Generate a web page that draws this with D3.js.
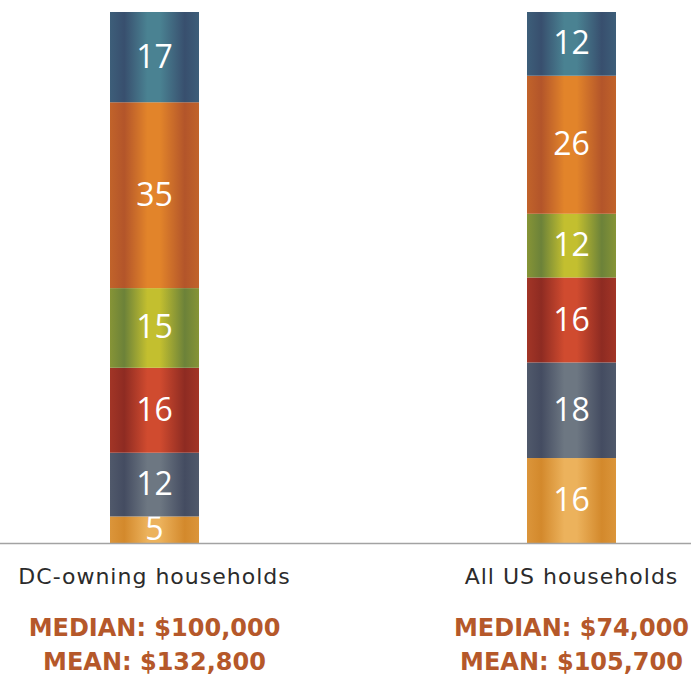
<!DOCTYPE html>
<html>
<head>
<meta charset="utf-8">
<script src="https://cdn.jsdelivr.net/npm/d3@7"></script>
<style>
  body { margin: 0; background: #fff; }
  svg { display: block; }
  text { font-family: "Open Sans", sans-serif; }
</style>
</head>
<body>
<svg id="chart" width="691" height="677"></svg>
<script>
// groups and their stacked shares, listed bottom to top
var groups = ["DC-owning households", "All US households"];
var bands = ["band1", "band2", "band3", "band4", "band5", "band6"];
var dcValues = [5, 12, 16, 15, 35, 17];
var usValues = [16, 18, 16, 12, 26, 12];
var medians = ["MEDIAN: $100,000", "MEDIAN: $74,000"];
var means = ["MEAN: $132,800", "MEAN: $105,700"];

// dark edge / light centre for each band
var bandColors = {
    band1: ["#d3892c", "#ecb25c"],
    band2: ["#444c61", "#6d7782"],
    band3: ["#8e2b22", "#d04b2f"],
    band4: ["#6c8239", "#c3bf2f"],
    band5: ["#b3552a", "#e2842a"],
    band6: ["#384f6e", "#4a8292"]
};

var svg = d3.select("#chart"),
    width = +svg.attr("width"),
    barWidth = 89,
    baseY = 543,
    topY = 12;

var rows = groups.map(function(g, i) {
    var vals = i == 0 ? dcValues : usValues;
    var r = { group: g };
    bands.forEach(function(b, j) { r[b] = vals[j]; });
    return r;
});

var stack = d3.stack().keys(bands);
var series = stack(rows);

var x = d3.scalePoint()
    .domain(groups)
    .range([154.5, 571.5]);

var y = d3.scaleLinear()
    .domain([0, 100])
    .range([baseY, topY]);

var defs = svg.append("defs");
bands.forEach(function(b) {
    var c = bandColors[b];
    var mid = d3.interpolateRgb(c[0], c[1])(0.3);
    var grad = defs.append("linearGradient")
        .attr("id", "grad_" + b)
        .attr("x1", "0").attr("x2", "1")
        .attr("y1", "0").attr("y2", "0");
    grad.append("stop").attr("offset", "0").attr("stop-color", mid);
    grad.append("stop").attr("offset", "0.16").attr("stop-color", c[0]);
    grad.append("stop").attr("offset", "0.42").attr("stop-color", c[1]);
    grad.append("stop").attr("offset", "0.56").attr("stop-color", c[1]);
    grad.append("stop").attr("offset", "0.84").attr("stop-color", c[0]);
    grad.append("stop").attr("offset", "1").attr("stop-color", mid);
});

var layer = svg.append("g").selectAll("g")
    .data(series)
    .enter().append("g")
    .attr("fill", function(d) { return "url(#grad_" + d.key + ")"; });

layer.selectAll("rect")
    .data(function(d) { return d; })
    .enter().append("rect")
    .attr("x", function(d) { return x(d.data.group) - barWidth / 2; })
    .attr("width", barWidth)
    .attr("y", function(d) { return y(d[1]); })
    .attr("height", function(d) { return y(d[0]) - y(d[1]); });

layer.selectAll("text")
    .data(function(d) { return d; })
    .enter().append("text")
    .attr("x", function(d) { return x(d.data.group); })
    .attr("y", function(d) { return (y(d[0]) + y(d[1])) / 2 - 1; })
    .attr("dy", "0.36em")
    .attr("text-anchor", "middle")
    .attr("fill", "#fff")
    .style("font-size", "32px")
    .text(function(d) { return d[1] - d[0]; });

// baseline
svg.append("line")
    .attr("x1", 0).attr("x2", width)
    .attr("y1", baseY + 0.5).attr("y2", baseY + 0.5)
    .attr("stroke", "#a3a3a3")
    .attr("stroke-width", 1.5);

var labels = svg.append("g").selectAll("g")
    .data(groups)
    .enter().append("g")
    .attr("transform", function(d) { return "translate(" + x(d) + ",0)"; });

labels.append("text")
    .attr("y", 584)
    .attr("text-anchor", "middle")
    .attr("fill", "#2b2b2b")
    .style("font-family", "'DejaVu Sans', sans-serif")
    .style("font-size", "22px")
    .style("letter-spacing", "1px")
    .text(function(d) { return d; });

labels.append("text")
    .attr("y", 636)
    .attr("text-anchor", "middle")
    .attr("fill", "#b5582a")
    .style("font-family", "'DejaVu Sans', sans-serif")
    .style("font-size", "24px")
    .style("font-weight", "bold")
    .text(function(d, i) { return medians[i]; });

labels.append("text")
    .attr("y", 670)
    .attr("text-anchor", "middle")
    .attr("fill", "#b5582a")
    .style("font-family", "'DejaVu Sans', sans-serif")
    .style("font-size", "24px")
    .style("font-weight", "bold")
    .text(function(d, i) { return means[i]; });
</script>
</body>
</html>
